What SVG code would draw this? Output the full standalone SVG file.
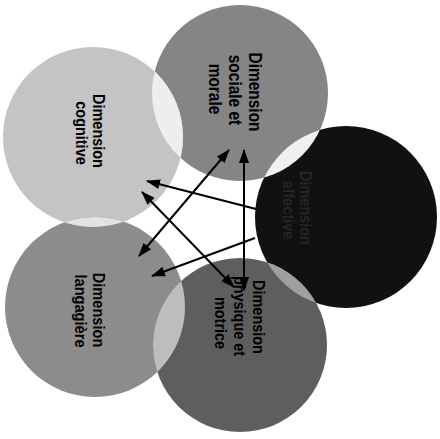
<svg xmlns="http://www.w3.org/2000/svg" width="440" height="439" viewBox="0 0 440 439">
<style>
.lbl{font-family:"Liberation Sans",Arial,sans-serif;font-weight:bold;font-size:17px;fill:#000;text-anchor:middle}
.big{font-size:18px}
.dk{fill:#242424}
.conn{stroke:#000;stroke-width:2;fill:none}
</style>
<defs>
<marker id="ah" viewBox="0 0 14 10" refX="13" refY="5" markerWidth="14" markerHeight="10" markerUnits="userSpaceOnUse" orient="auto-start-reverse">
<path d="M0,0 L14,5 L0,10 z" fill="#000"/>
</marker>
<clipPath id="cCog"><circle cx="93" cy="137" r="90"/></clipPath>
<clipPath id="cSoc"><circle cx="240" cy="93" r="88"/></clipPath>
<clipPath id="cAff"><circle cx="346" cy="217" r="91"/></clipPath>
<clipPath id="cLan"><circle cx="95" cy="307" r="90"/></clipPath>
<clipPath id="cPhy"><circle cx="240" cy="345" r="87"/></clipPath>
</defs>
<rect width="440" height="439" fill="#fff"/>
<g id="n-sociale"><circle cx="240" cy="93" r="88" fill="#858585"/></g>
<g id="n-affective"><circle cx="346" cy="217" r="91" fill="#111"/></g>
<g id="n-cognitive"><circle cx="93" cy="137" r="90" fill="#c4c4c4"/></g>
<g id="n-langagiere"><circle cx="95" cy="307" r="90" fill="#8c8c8c"/></g>
<g id="n-physique"><circle cx="240" cy="345" r="87" fill="#5e5e5e"/></g>
<g id="overlaps">
<circle cx="93" cy="137" r="90" fill="#eeeeee" clip-path="url(#cSoc)"/>
<circle cx="346" cy="217" r="91" fill="#f0f0f0" clip-path="url(#cSoc)"/>
<circle cx="346" cy="217" r="91" fill="#a0a0a0" clip-path="url(#cPhy)"/>
<circle cx="95" cy="307" r="90" fill="#bdbdbd" clip-path="url(#cPhy)"/>
<circle cx="95" cy="307" r="90" fill="#e2e2e2" clip-path="url(#cCog)"/>
</g>
<g id="labels">
<text class="lbl" transform="translate(93,131) rotate(90) scale(0.85,1)">Dimension</text>
<text class="lbl" transform="translate(76,133) rotate(90) scale(0.85,1)">cognitive</text>
<text class="lbl big" transform="translate(249,92) rotate(90) scale(0.86,1)">Dimension</text>
<text class="lbl big" transform="translate(229,90) rotate(90) scale(0.86,1)">sociale et</text>
<text class="lbl big" transform="translate(209,89) rotate(90) scale(0.86,1)">morale</text>
<text class="lbl dk" transform="translate(300,208) rotate(90) scale(0.85,1)">Dimension</text>
<text class="lbl dk" transform="translate(283,210) rotate(90) scale(0.85,1)">affective</text>
<text class="lbl" transform="translate(93,310) rotate(90) scale(0.86,1)">Dimension</text>
<text class="lbl" transform="translate(75,311) rotate(90) scale(0.86,1)">langagière</text>
<text class="lbl" transform="translate(253,317) rotate(90) scale(0.85,1)">Dimension</text>
<text class="lbl" transform="translate(234,316) rotate(90) scale(0.85,1)">physique et</text>
<text class="lbl" transform="translate(215,323) rotate(90) scale(0.85,1)">motrice</text>
</g>
<g id="connectors">
<line class="conn" x1="256" y1="209" x2="147" y2="181" marker-end="url(#ah)"/>
<line class="conn" x1="255" y1="238" x2="152" y2="276" marker-end="url(#ah)"/>
<line class="conn" x1="244" y1="150" x2="244" y2="290" marker-start="url(#ah)" marker-end="url(#ah)"/>
<line class="conn" x1="142" y1="192" x2="234" y2="287" marker-start="url(#ah)" marker-end="url(#ah)"/>
<line class="conn" x1="139" y1="256" x2="229" y2="150" marker-start="url(#ah)" marker-end="url(#ah)"/>
</g>
</svg>
